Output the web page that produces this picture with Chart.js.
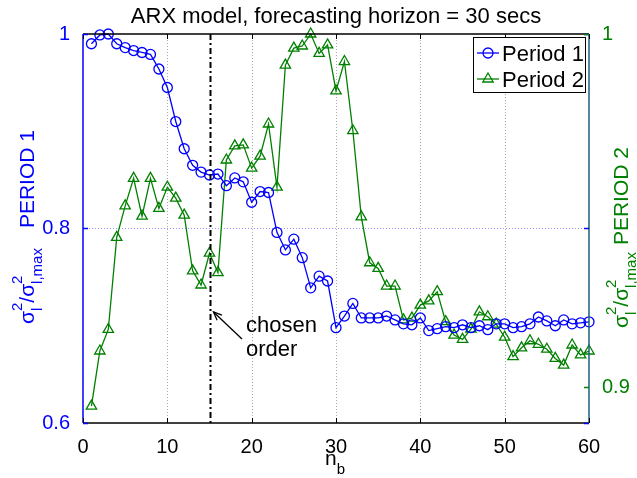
<!DOCTYPE html>
<html>
<head>
<meta charset="utf-8">
<script src="https://cdn.jsdelivr.net/npm/chart.js@4"></script>
<style>
  html, body { margin: 0; padding: 0; background: #ffffff; }
  #wrap { width: 637px; height: 478px; }
</style>
</head>
<body>
<div id="wrap"><canvas id="c" width="637" height="478"></canvas></div>
<script>
// Model order n_b
const nb = [1,2,3,4,5,6,7,8,9,10,11,12,13,14,15,16,17,18,19,20,
            21,22,23,24,25,26,27,28,29,30,31,32,33,34,35,36,37,38,39,40,
            41,42,43,44,45,46,47,48,49,50,51,52,53,54,55,56,57,58,59,60];

// Normalised variance, period 1 (left axis)
const period1 = [0.990,0.999,1.000,0.990,0.986,0.983,0.981,0.979,0.964,0.945,
                 0.910,0.882,0.865,0.858,0.855,0.856,0.844,0.852,0.848,0.827,
                 0.838,0.837,0.796,0.778,0.789,0.770,0.739,0.751,0.746,0.698,
                 0.710,0.723,0.708,0.708,0.708,0.710,0.706,0.702,0.701,0.708,
                 0.695,0.697,0.699,0.698,0.701,0.698,0.700,0.696,0.702,0.702,
                 0.698,0.699,0.702,0.709,0.705,0.700,0.706,0.702,0.703,0.704];

// Normalised variance, period 2 (right axis)
const period2 = [0.8946,0.9102,0.9163,0.9424,0.9513,0.9591,0.9484,0.9591,0.9506,0.9566,
                 0.9535,0.9487,0.9329,0.9289,0.9379,0.9324,0.9643,0.9683,0.9686,0.9620,
                 0.9654,0.9745,0.9566,0.9912,0.9960,0.9966,1.0000,0.9945,0.9969,0.9839,
                 0.9922,0.9726,0.9482,0.9352,0.9336,0.9286,0.9286,0.9190,0.9195,0.9232,
                 0.9244,0.9270,0.9185,0.9147,0.9135,0.9164,0.9213,0.9199,0.9178,0.9141,
                 0.9086,0.9111,0.9131,0.9121,0.9107,0.9081,0.9062,0.9119,0.9091,0.9102];

const xTicks = [0,10,20,30,40,50,60];
const leftTicks = [0.6,0.8,1];
const rightTicks = [0.9,1];
const leftRange = [0.6, 1];
const rightRange = [0.8898, 1];
const chosenOrder = 15;

const BLUE = '#0000ff';
const GREEN = '#008000';
const FONT = "'Liberation Sans', Arial, Helvetica, sans-serif";

function font(px) { return px + 'px ' + FONT; }

// Draw a run of text pieces along one baseline; returns the advance width
function drawRun(ctx, pieces, x0, y0) {
  let x = x0;
  for (const p of pieces) {
    if (p.stack) {
      let w = 0;
      for (const s of p.stack) {
        ctx.font = font(s.size);
        ctx.fillText(s.t, x, y0 + s.dy);
        w = Math.max(w, ctx.measureText(s.t).width);
      }
      x += w;
    } else if (p.gap) {
      x += p.gap;
    } else {
      ctx.font = font(p.size);
      ctx.fillText(p.t, x, y0 + (p.dy || 0));
      x += ctx.measureText(p.t).width;
    }
  }
  return x - x0;
}

// sigma^2_l / sigma^2_{l,max}  followed by the period name
function sigmaLabel(tag, gap) {
  return [
    {t: 'σ', size: 21},
    {stack: [{t: '2', size: 15, dy: -12}, {t: 'l', size: 15, dy: 8}]},
    {t: '/', size: 21},
    {t: 'σ', size: 21},
    {stack: [{t: '2', size: 15, dy: -12}, {t: 'l,max', size: 15, dy: 8}]},
    {gap: gap},
    {t: tag, size: 21}
  ];
}

const decorations = {
  id: 'decorations',
  beforeDatasetsDraw(chart) {
    const {ctx, chartArea: a, scales} = chart;
    ctx.save();
    // dotted vertical grid
    ctx.strokeStyle = '#a8a8a8';
    ctx.lineWidth = 1;
    ctx.setLineDash([1, 2]);
    for (const v of xTicks) {
      if (v === xTicks[0] || v === xTicks[xTicks.length - 1]) continue;
      const px = Math.round(scales.x.getPixelForValue(v)) + 0.5;
      ctx.beginPath(); ctx.moveTo(px, a.top); ctx.lineTo(px, a.bottom); ctx.stroke();
    }
    // dotted horizontal grid of the left axis
    ctx.strokeStyle = '#9090ff';
    for (const v of leftTicks) {
      if (v === leftRange[0] || v === leftRange[1]) continue;
      const py = Math.round(scales.y.getPixelForValue(v)) + 0.5;
      ctx.beginPath(); ctx.moveTo(a.left, py); ctx.lineTo(a.right, py); ctx.stroke();
    }
    ctx.restore();
  },
  afterDatasetsDraw(chart) {
    const {ctx, chartArea: a, scales} = chart;
    ctx.save();
    // chosen order marker
    const cx = Math.round(scales.x.getPixelForValue(chosenOrder)) + 0.5;
    ctx.strokeStyle = '#000000';
    ctx.lineWidth = 2;
    ctx.setLineDash([6, 3, 2, 3]);
    ctx.beginPath(); ctx.moveTo(cx, a.top); ctx.lineTo(cx, a.bottom); ctx.stroke();
    ctx.setLineDash([]);

    // frame
    ctx.lineWidth = 1.5;
    ctx.strokeStyle = '#000000';
    ctx.beginPath(); ctx.moveTo(a.left, a.top); ctx.lineTo(a.right, a.top); ctx.stroke();
    ctx.beginPath(); ctx.moveTo(a.left, a.bottom); ctx.lineTo(a.right, a.bottom); ctx.stroke();
    ctx.strokeStyle = BLUE;
    ctx.beginPath(); ctx.moveTo(a.left, a.top); ctx.lineTo(a.left, a.bottom); ctx.stroke();
    ctx.strokeStyle = '#1d5f78';
    ctx.beginPath(); ctx.moveTo(a.right, a.top); ctx.lineTo(a.right, a.bottom); ctx.stroke();

    // inward tick marks
    ctx.lineWidth = 1;
    ctx.strokeStyle = '#000000';
    for (const v of xTicks) {
      const px = Math.round(scales.x.getPixelForValue(v)) + 0.5;
      ctx.beginPath(); ctx.moveTo(px, a.bottom); ctx.lineTo(px, a.bottom - 5); ctx.stroke();
      ctx.beginPath(); ctx.moveTo(px, a.top); ctx.lineTo(px, a.top + 5); ctx.stroke();
    }
    ctx.strokeStyle = BLUE;
    ctx.lineWidth = 1.5;
    for (const v of leftTicks) {
      const py = Math.round(scales.y.getPixelForValue(v)) + 0.5;
      ctx.beginPath(); ctx.moveTo(a.left, py); ctx.lineTo(a.left + 5, py); ctx.stroke();
      ctx.beginPath(); ctx.moveTo(a.right, py); ctx.lineTo(a.right - 5, py); ctx.stroke();
    }
    ctx.strokeStyle = GREEN;
    for (const v of rightTicks) {
      const py = Math.round(scales.y2.getPixelForValue(v)) + 0.5;
      ctx.beginPath(); ctx.moveTo(a.right, py); ctx.lineTo(a.right - 5, py); ctx.stroke();
    }

    // annotation arrow and text
    const tipX = scales.x.getPixelForValue(chosenOrder) + 4;
    const tipY = 312;
    const tailX = 242, tailY = 339;
    ctx.strokeStyle = '#000000';
    ctx.lineWidth = 1.3;
    ctx.beginPath(); ctx.moveTo(tailX, tailY); ctx.lineTo(tipX, tipY); ctx.stroke();
    const ang = Math.atan2(tipY - tailY, tipX - tailX);
    ctx.beginPath();
    ctx.moveTo(tipX - 9 * Math.cos(ang - 0.4), tipY - 9 * Math.sin(ang - 0.4));
    ctx.lineTo(tipX, tipY);
    ctx.lineTo(tipX - 9 * Math.cos(ang + 0.4), tipY - 9 * Math.sin(ang + 0.4));
    ctx.stroke();
    ctx.fillStyle = '#000000';
    ctx.font = font(22);
    ctx.textBaseline = 'alphabetic';
    ctx.textAlign = 'left';
    ctx.fillText('chosen', 246, 332);
    ctx.fillText('order', 246, 356);

    // legend
    const lx = 473, ly = 37, lw = 112, lh = 55;
    ctx.fillStyle = '#ffffff';
    ctx.fillRect(lx, ly, lw, lh);
    ctx.strokeStyle = '#000000';
    ctx.lineWidth = 1;
    ctx.strokeRect(lx + 0.5, ly + 0.5, lw, lh);
    chart.data.datasets.forEach((ds, i) => {
      const yy = 53 + i * 26;
      ctx.strokeStyle = ds.borderColor;
      ctx.lineWidth = 1.3;
      ctx.beginPath(); ctx.moveTo(477, yy); ctx.lineTo(499, yy); ctx.stroke();
      ctx.fillStyle = 'rgba(0,0,0,0)';
      Chart.helpers.drawPoint(ctx, {
        pointStyle: ds.pointStyle,
        radius: ds.pointRadius,
        borderWidth: ds.pointBorderWidth,
        rotation: 0
      }, 488, yy);
      ctx.fillStyle = '#000000';
      ctx.font = font(22);
      ctx.fillText(ds.label, 502, yy + 8);
    });

    // title
    ctx.fillStyle = '#000000';
    ctx.font = font(22);
    ctx.textAlign = 'center';
    ctx.fillText('ARX model, forecasting horizon = 30 secs', (a.left + a.right) / 2, 23);
    ctx.textAlign = 'left';

    // x axis label
    ctx.fillStyle = '#000000';
    drawRun(ctx, [{t: 'n', size: 21}, {t: 'b', size: 15, dy: 9}], 325, 465);

    // left y label
    ctx.save();
    ctx.fillStyle = BLUE;
    ctx.translate(34, 324);
    ctx.rotate(-Math.PI / 2);
    drawRun(ctx, sigmaLabel('PERIOD 1', 20), 0, 0);
    ctx.restore();

    // right y label
    ctx.save();
    ctx.fillStyle = GREEN;
    ctx.translate(628, 328);
    ctx.rotate(-Math.PI / 2);
    drawRun(ctx, sigmaLabel('PERIOD 2', 7), 0, 0);
    ctx.restore();

    ctx.restore();
  }
};

const pts = (xs, ys) => xs.map((x, i) => ({x, y: ys[i]}));

new Chart(document.getElementById('c'), {
  type: 'line',
  data: {
    datasets: [
      {
        label: 'Period 1',
        data: pts(nb, period1),
        yAxisID: 'y',
        borderColor: BLUE,
        backgroundColor: 'rgba(0,0,0,0)',
        borderWidth: 1.3,
        pointStyle: 'circle',
        pointRadius: 5,
        pointBorderWidth: 1.3,
        pointBorderColor: BLUE,
        pointBackgroundColor: 'rgba(0,0,0,0)',
        tension: 0,
        clip: false
      },
      {
        label: 'Period 2',
        data: pts(nb, period2),
        yAxisID: 'y2',
        borderColor: GREEN,
        backgroundColor: 'rgba(0,0,0,0)',
        borderWidth: 1.3,
        pointStyle: 'triangle',
        pointRadius: 6,
        pointBorderWidth: 1.3,
        pointBorderColor: GREEN,
        pointBackgroundColor: 'rgba(0,0,0,0)',
        tension: 0,
        clip: false
      }
    ]
  },
  options: {
    responsive: false,
    animation: false,
    devicePixelRatio: 1,
    layout: { padding: { top: 34, left: 0, right: 0, bottom: 0 } },
    plugins: { legend: { display: false }, title: { display: false }, tooltip: { enabled: false } },
    scales: {
      x: {
        type: 'linear',
        min: 0, max: 60,
        afterBuildTicks: s => { s.ticks = xTicks.map(v => ({value: v})); },
        afterFit: s => { s.height = 55; },
        grid: { display: false },
        border: { display: false },
        ticks: { color: '#000000', font: { family: FONT, size: 20 }, padding: 4, maxRotation: 0, autoSkip: false,
                 callback: v => String(v) }
      },
      y: {
        type: 'linear',
        position: 'left',
        min: leftRange[0], max: leftRange[1],
        afterBuildTicks: s => { s.ticks = leftTicks.map(v => ({value: v})); },
        afterFit: s => { s.width = 83; },
        grid: { display: false },
        border: { display: false },
        ticks: { color: BLUE, font: { family: FONT, size: 20 }, padding: 5, autoSkip: false,
                 callback: v => String(v) }
      },
      y2: {
        type: 'linear',
        position: 'right',
        min: rightRange[0], max: rightRange[1],
        afterBuildTicks: s => { s.ticks = rightTicks.map(v => ({value: v})); },
        afterFit: s => { s.width = 48; },
        grid: { display: false },
        border: { display: false },
        ticks: { color: GREEN, font: { family: FONT, size: 20 }, padding: 5, autoSkip: false,
                 callback: v => String(v) }
      }
    }
  },
  plugins: [decorations]
});
</script>
</body>
</html>
